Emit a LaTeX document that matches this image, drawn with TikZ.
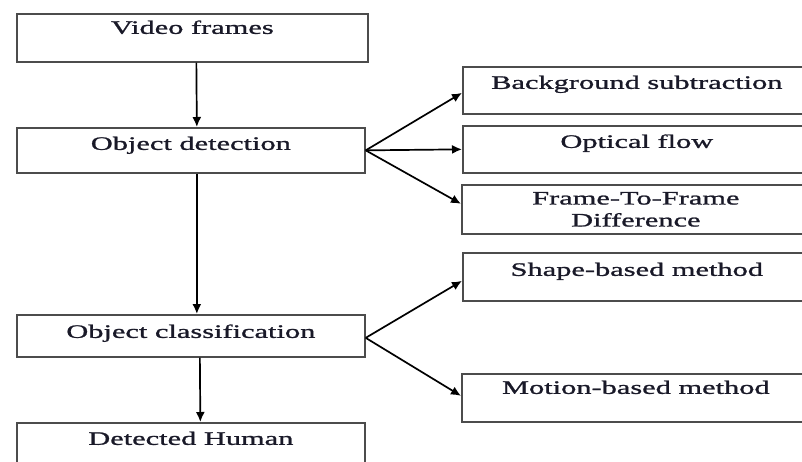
\documentclass[tikz,border=0pt]{standalone}
\usepackage{fontspec}
\setmainfont{Liberation Serif}[FakeStretch=1.6,FakeBold=1.2]
\usetikzlibrary{arrows.meta}
\definecolor{textcol}{RGB}{25,25,40}

\begin{document}
\begin{tikzpicture}[x=1pt,y=-1pt,->,>={Latex[length=10pt,width=9pt]},line width=1.7pt,
  box/.style={draw=black!70,anchor=north west,inner sep=0pt,text=textcol,
    font=\fontsize{19}{22}\selectfont},
  tb/.style 2 args={text height=#1pt,text depth=#2pt},
  left box/.style={box,minimum width=348pt},
  right box/.style={box,minimum width=348pt}]

  \clip (0,0) rectangle (802,461);

  % main chain
  \node[left box,minimum width=351pt,tb={20}{28}] (vf) at (16,13) {Video frames};
  \node[left box,tb={22}{23}] (od) at (16,127) {Object detection};
  \node[left box,tb={23}{19}] (oc) at (16,314) {Object classification};
  \node[left box,tb={22}{30}] (dh) at (16,422) {Detected Human};

  % detection methods
  \node[right box,tb={22}{25}] (bs) at (462,66) {Background subtraction};
  \node[right box,tb={22}{25}] (of) at (462,125) {Optical flow};
  \node[right box,align=center,minimum height=49pt] (ftf) at (461,184) {Frame-To-Frame\\Difference};

  % classification methods
  \node[right box,tb={23}{25}] (sb) at (462,252) {Shape-based method};
  \node[right box,tb={20}{28}] (mb) at (461,373) {Motion-based method};

  \path
    ([xshift=4pt]vf.south) edge ([xshift=6pt]od.north)
    ([xshift=6pt]od.south) edge ([xshift=6pt]oc.north)
    ([xshift=9pt]oc.south) edge ([xshift=9.5pt]dh.north)
    (od.east) edge ([yshift=-2.5pt]bs.west)
              edge (of.west)
              edge ([yshift=5.5pt]ftf.west)
    ([yshift=-2pt]oc.east) edge ([yshift=-4pt]sb.west)
                           edge ([yshift=2pt]mb.west);
\end{tikzpicture}
\end{document}
